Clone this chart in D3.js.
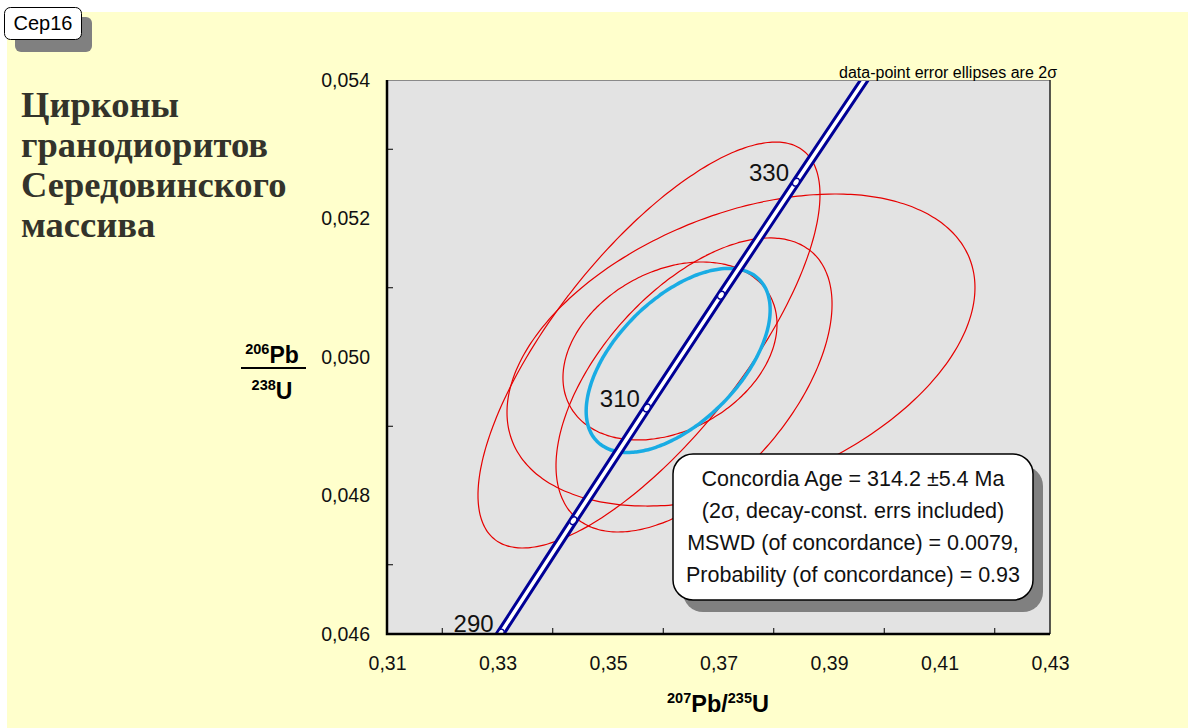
<!DOCTYPE html>
<html>
<head>
<meta charset="utf-8">
<script src="https://cdn.jsdelivr.net/npm/d3@7"></script>
<style>
  body { margin: 0; background: #ffffff; }
  svg text { font-family: 'Liberation Sans', Arial, sans-serif; }
</style>
</head>
<body>
<svg id="chart" width="1188" height="728"></svg>
<script>
// ---- data ----
const xTicks = [0.31, 0.33, 0.35, 0.37, 0.39, 0.41, 0.43]
const yTicks = [0.046, 0.048, 0.05, 0.052, 0.054]
const xMinor = [0.32, 0.34, 0.36, 0.38, 0.40, 0.42]
const yMinor = [0.047, 0.049, 0.051, 0.053]

// concordia points (207Pb/235U, 206Pb/238U) at ages, Ma
const concAge = [280, 290, 300, 310, 320, 330, 340]
const concX = [0.31753, 0.33057, 0.34374, 0.35704, 0.37047, 0.38403, 0.39773]
const concY = [0.044392, 0.046013, 0.047637, 0.049264, 0.050893, 0.052524, 0.054158]
const markerAges = [290, 300, 310, 320, 330]
const labelAges = [290, 310, 330]

// data-point error ellipses (2 sigma)
const pb207u235 = [0.35742, 0.37407, 0.36557, 0.36122]
const err207 = [0.03095, 0.04235, 0.02498, 0.01937]
const pb206u238 = [0.050173, 0.050101, 0.049596, 0.050087]
const err206 = [0.002931, 0.002253, 0.002123, 0.001285]
const rho = [0.74, 0.40, 0.55, 0.30]

// concordia age ellipse
const ageX = 0.3627, ageErrX = 0.01665
const ageY = 0.04995, ageErrY = 0.001329
const ageRho = 0.55

const infoLines = [
  'Concordia Age = 314.2 ±5.4 Ma',
  '(2σ, decay-const. errs included)',
  'MSWD (of concordance) = 0.0079,',
  'Probability (of concordance) = 0.93'
]
const titleLines = ['Цирконы', 'гранодиоритов', 'Середовинского', 'массива']

// ---- layout ----
const plot = { left: 387, right: 1050, top: 80, bottom: 634 }
const svg = d3.select('#chart')

const x = d3.scaleLinear().domain([0.31, 0.43]).range([plot.left, plot.right])
const y = d3.scaleLinear().domain([0.046, 0.054]).range([plot.bottom, plot.top])
const comma = d => String(d).replace('.', ',')
const fmtX = d => comma(d3.format('.2f')(d))
const fmtY = d => comma(d3.format('.3f')(d))

// page background
svg.append('rect')
  .attr('x', 7).attr('y', 12)
  .attr('width', 1188).attr('height', 728)
  .attr('fill', '#ffffcc')

// label box top-left
svg.append('rect')
  .attr('x', 15).attr('y', 17).attr('width', 77).attr('height', 35)
  .attr('rx', 6).attr('fill', '#808080')
svg.append('rect')
  .attr('x', 4.5).attr('y', 7.5).attr('width', 77).attr('height', 32)
  .attr('rx', 6).attr('fill', '#fff').attr('stroke', '#000').attr('stroke-width', 1)
svg.append('text')
  .text('Сер16')
  .attr('x', 43).attr('y', 30)
  .attr('text-anchor', 'middle')
  .attr('font-size', 20)

// title
svg.append('text')
  .style('font-family', "'Liberation Serif', 'Times New Roman', serif")
  .attr('font-weight', 'bold')
  .attr('font-size', 36.5)
  .attr('fill', '#33332b')
  .selectAll('tspan')
  .data(titleLines)
  .join('tspan')
  .attr('x', 21)
  .attr('y', (d, i) => 117 + i * 40)
  .text(d => d)

// plot background
svg.append('rect')
  .attr('x', plot.left).attr('y', plot.top)
  .attr('width', plot.right - plot.left).attr('height', plot.bottom - plot.top)
  .attr('fill', '#e3e3e3')

svg.append('clipPath').attr('id', 'clip')
  .append('rect')
  .attr('x', plot.left).attr('y', plot.top)
  .attr('width', plot.right - plot.left).attr('height', plot.bottom - plot.top)

const g = svg.append('g').attr('clip-path', 'url(#clip)')

// error ellipse path from center, 2s errors and correlation
function ellipse(cx, sx, cy, sy, r) {
  const k = Math.sqrt(1 - r * r)
  const pts = d3.range(0, 360, 2).map(a => {
    const t = a * Math.PI / 180
    return [x(cx + sx * Math.cos(t)), y(cy + sy * (r * Math.cos(t) + k * Math.sin(t)))]
  })
  return d3.line().curve(d3.curveCardinalClosed)(pts)
}

g.selectAll('.data-ellipse')
  .data(pb207u235)
  .join('path')
  .attr('class', 'data-ellipse')
  .attr('d', (d, i) => ellipse(d, err207[i], pb206u238[i], err206[i], rho[i]))
  .attr('fill', 'none')
  .attr('stroke', '#e60000')
  .attr('stroke-width', 1.2)

g.append('path')
  .attr('class', 'age-ellipse')
  .attr('d', ellipse(ageX, ageErrX, ageY, ageErrY, ageRho))
  .attr('fill', 'none')
  .attr('stroke', '#19ace4')
  .attr('stroke-width', 3.5)

// concordia band
const concPts = concX.map((d, i) => [x(d), y(concY[i])])
const concLine = d3.line().curve(d3.curveCatmullRom)
g.append('path')
  .attr('d', concLine(concPts))
  .attr('fill', 'none')
  .attr('stroke', '#000096')
  .attr('stroke-width', 9.5)
g.append('path')
  .attr('d', concLine(concPts))
  .attr('fill', 'none')
  .attr('stroke', '#ffffff')
  .attr('stroke-width', 3.5)

// age markers
markerAges.forEach(age => {
  const i = concAge.indexOf(age)
  const px = x(concX[i]), py = y(concY[i])
  const dx = x(concX[i + 1]) - x(concX[i - 1])
  const dy = y(concY[i + 1]) - y(concY[i - 1])
  const ang = Math.atan2(dx, -dy) * 180 / Math.PI
  g.append('ellipse')
    .attr('cx', px).attr('cy', py)
    .attr('rx', 3).attr('ry', 4.2)
    .attr('transform', `rotate(${ang},${px},${py})`)
    .attr('fill', '#fff')
    .attr('stroke', '#000096')
    .attr('stroke-width', 1.5)
})

svg.selectAll('.age-label')
  .data(labelAges)
  .join('text')
  .attr('class', 'age-label')
  .attr('x', d => x(concX[concAge.indexOf(d)]) - 7)
  .attr('y', d => y(concY[concAge.indexOf(d)]) - 1)
  .attr('text-anchor', 'end')
  .attr('font-size', 24)
  .attr('fill', '#111')
  .text(d => d)

// minor ticks inside the frame
svg.selectAll('.xminor')
  .data(xMinor)
  .join('line')
  .attr('x1', d => x(d)).attr('x2', d => x(d))
  .attr('y1', plot.bottom).attr('y2', plot.bottom - 6)
  .attr('stroke', '#000').attr('stroke-width', 1)
svg.selectAll('.yminor')
  .data(yMinor)
  .join('line')
  .attr('y1', d => y(d)).attr('y2', d => y(d))
  .attr('x1', plot.left).attr('x2', plot.left + 6)
  .attr('stroke', '#000').attr('stroke-width', 1)

// frame
svg.append('line')
  .attr('x1', plot.left).attr('x2', plot.right)
  .attr('y1', plot.top + 0.5).attr('y2', plot.top + 0.5)
  .attr('stroke', '#8a8a8a').attr('stroke-width', 1)
svg.append('line')
  .attr('x1', plot.right).attr('x2', plot.right)
  .attr('y1', plot.top).attr('y2', plot.bottom)
  .attr('stroke', '#222').attr('stroke-width', 1.5)
svg.append('path')
  .attr('d', `M${plot.left},${plot.top}V${plot.bottom}H${plot.right}`)
  .attr('fill', 'none')
  .attr('stroke', '#000').attr('stroke-width', 2.5)

// axes
const xAxis = svg.append('g')
  .attr('transform', `translate(0,${plot.bottom})`)
  .call(d3.axisBottom(x).tickValues(xTicks).tickSize(0).tickPadding(22).tickFormat(fmtX))
xAxis.select('.domain').remove()
xAxis.selectAll('text').attr('font-size', 19.5).attr('fill', '#111')
  .style('font-family', "'Liberation Sans', Arial, sans-serif")

const yAxis = svg.append('g')
  .attr('transform', `translate(${plot.left},0)`)
  .call(d3.axisLeft(y).tickValues(yTicks).tickSize(0).tickPadding(17).tickFormat(fmtY))
yAxis.select('.domain').remove()
yAxis.selectAll('text').attr('font-size', 19.5).attr('fill', '#111')
  .style('font-family', "'Liberation Sans', Arial, sans-serif")

// axis titles
const xt = svg.append('text')
  .attr('x', 718).attr('y', 712)
  .attr('text-anchor', 'middle')
  .attr('font-weight', 'bold')
  .attr('font-size', 23.5)
xt.append('tspan').attr('font-size', 14.5).attr('dy', -9).text('207')
xt.append('tspan').attr('dy', 9).text('Pb/')
xt.append('tspan').attr('font-size', 14.5).attr('dy', -9).text('235')
xt.append('tspan').attr('dy', 9).text('U')

const yt1 = svg.append('text')
  .attr('x', 272).attr('y', 363)
  .attr('text-anchor', 'middle')
  .attr('font-weight', 'bold').attr('font-size', 23)
yt1.append('tspan').attr('font-size', 14.5).attr('dy', -9).text('206')
yt1.append('tspan').attr('dy', 9).text('Pb')
svg.append('line')
  .attr('x1', 241).attr('x2', 306)
  .attr('y1', 368).attr('y2', 368)
  .attr('stroke', '#000').attr('stroke-width', 2)
const yt2 = svg.append('text')
  .attr('x', 272).attr('y', 399)
  .attr('text-anchor', 'middle')
  .attr('font-weight', 'bold').attr('font-size', 23)
yt2.append('tspan').attr('font-size', 14.5).attr('dy', -9).text('238')
yt2.append('tspan').attr('dy', 9).text('U')

svg.append('text')
  .attr('x', 1057).attr('y', 78)
  .attr('text-anchor', 'end')
  .attr('font-size', 16)
  .attr('fill', '#000')
  .text('data-point error ellipses are 2σ')

// info box
const box = { x: 673, y: 454, w: 360, h: 146 }
svg.append('rect')
  .attr('x', box.x + 10).attr('y', box.y + 12)
  .attr('width', box.w).attr('height', box.h)
  .attr('rx', 20).attr('fill', '#808080')
svg.append('rect')
  .attr('x', box.x).attr('y', box.y)
  .attr('width', box.w).attr('height', box.h)
  .attr('rx', 20).attr('fill', '#fff')
  .attr('stroke', '#000').attr('stroke-width', 1.5)
svg.selectAll('.info')
  .data(infoLines)
  .join('text')
  .attr('class', 'info')
  .attr('x', box.x + box.w / 2)
  .attr('y', (d, i) => 486 + i * 32)
  .attr('text-anchor', 'middle')
  .attr('font-size', 21.5)
  .attr('fill', '#111')
  .text(d => d)
</script>
</body>
</html>
